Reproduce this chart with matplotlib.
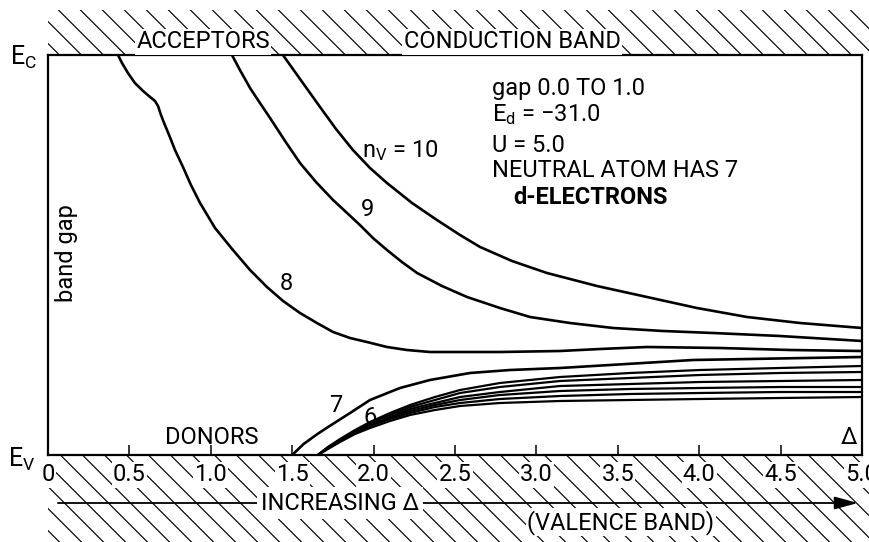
import numpy as np
import matplotlib
matplotlib.use("Agg")
import matplotlib.pyplot as plt
from matplotlib.patches import Rectangle

plt.rcParams['font.family'] = ['Roboto', 'DejaVu Sans']
plt.rcParams['font.weight'] = 'normal'
plt.rcParams['mathtext.fontset'] = 'custom'
plt.rcParams['mathtext.rm'] = 'Roboto'
plt.rcParams['mathtext.it'] = 'Roboto'

# ---------------- data (Delta, level between Ev=0 and Ec=1) ----------------
tick_values = [0, 0.5, 1.0, 1.5, 2.0, 2.5, 3.0, 3.5, 4.0, 4.5, 5.0]
tick_labels = ["0", "0.5", "1.0", "1.5", "2.0", "2.5", "3.0", "3.5", "4.0", "4.5", "5.0"]

delta_n10 = [1.443, 1.548, 1.671, 1.769, 1.873, 1.978, 2.082, 2.236, 2.389, 2.531,
             2.654, 2.850, 3.065, 3.372, 3.679, 3.986, 4.294, 4.619, 5.0]
level_n10 = [1.0, 0.94, 0.87, 0.815, 0.7625, 0.7175, 0.68, 0.63, 0.5875, 0.55,
             0.52, 0.485, 0.455, 0.4225, 0.395, 0.3675, 0.345, 0.33, 0.3175]

delta_n9 = [1.130, 1.179, 1.241, 1.302, 1.364, 1.456, 1.548, 1.646, 1.751, 1.837,
            1.916, 1.996, 2.082, 2.174, 2.267, 2.420, 2.574, 2.776, 2.961, 3.206,
            3.471, 3.778, 4.085, 4.496, 5.0]
level_n9 = [1.0, 0.9625, 0.9175, 0.88, 0.8425, 0.785, 0.73, 0.6825, 0.6375, 0.605,
            0.575, 0.5425, 0.5125, 0.4825, 0.455, 0.4225, 0.395, 0.3675, 0.345, 0.33,
            0.3175, 0.31, 0.305, 0.2975, 0.285]

delta_n8 = [0.430, 0.4545, 0.491, 0.534, 0.584, 0.627, 0.657, 0.676, 0.694, 0.713,
            0.731, 0.756, 0.780, 0.829, 0.878, 0.934, 1.026, 1.136, 1.241, 1.345,
            1.444, 1.548, 1.652, 1.751, 1.855, 1.959, 2.082, 2.205, 2.346, 2.469,
            2.776, 3.145, 3.391, 3.679, 4.128, 4.558, 5.0]
level_n8 = [1.0, 0.98, 0.955, 0.93, 0.91, 0.895, 0.885, 0.8725, 0.85, 0.83,
            0.8125, 0.7875, 0.7625, 0.72, 0.675, 0.63, 0.5675, 0.5125, 0.4625, 0.42,
            0.385, 0.355, 0.33, 0.3075, 0.2925, 0.2825, 0.27, 0.2625, 0.2575, 0.2575,
            0.2575, 0.26, 0.265, 0.27, 0.2675, 0.2625, 0.26]

delta_n7 = [1.5, 1.57, 1.655, 1.73, 1.865, 1.978, 2.162, 2.346, 2.592, 2.838,
            3.145, 3.962, 5.0]
level_n7 = [0.0, 0.0275, 0.0525, 0.0725, 0.1075, 0.1375, 0.1675, 0.1875, 0.205, 0.2125,
            0.2175, 0.2375, 0.245]

delta_low = [1.658, 1.720, 1.794, 1.886, 1.978, 2.101, 2.224, 2.377, 2.531, 2.776,
             3.145, 3.575, 4.005, 4.496, 5.0]
level_n6 = [0, 0.02, 0.04, 0.0625, 0.0825, 0.105, 0.125, 0.145, 0.1625, 0.18,
            0.195, 0.205, 0.2125, 0.2175, 0.2225]
level_n5 = [0, 0.02, 0.0375, 0.06, 0.08, 0.1, 0.12, 0.1375, 0.155, 0.17,
            0.185, 0.1925, 0.2, 0.205, 0.2075]
level_n4 = [0, 0.0175, 0.0375, 0.0575, 0.0775, 0.095, 0.115, 0.13, 0.145, 0.1575,
            0.1725, 0.1775, 0.1825, 0.185, 0.1875]
level_n3 = [0, 0.0175, 0.035, 0.055, 0.075, 0.0925, 0.11, 0.125, 0.1375, 0.15,
            0.16, 0.165, 0.1675, 0.17, 0.17]
level_n2 = [0, 0.0175, 0.035, 0.055, 0.0725, 0.09, 0.105, 0.12, 0.13, 0.14,
            0.1475, 0.1525, 0.155, 0.1575, 0.1575]
level_n1 = [0, 0.015, 0.0325, 0.0525, 0.0675, 0.085, 0.1, 0.1125, 0.1225, 0.13,
            0.135, 0.1375, 0.14, 0.1425, 0.145]

# ---------------- figure ----------------
W, H = 870, 542
fig = plt.figure(figsize=(W / 100, H / 100), dpi=100)
ax = fig.add_axes([48 / W, 87 / H, 814 / W, 400 / H])
ax.set_xlim(0, 5)
ax.set_ylim(0, 1)
for s in ax.spines.values():
    s.set_linewidth(1.6)
FS = 17
ax.set_yticks([])
ax.set_xticks(tick_values)
ax.set_xticklabels(tick_labels)
ax.tick_params(axis='x', direction='in', length=7, width=1.1, pad=6, labelsize=FS)
for lbl in ax.get_xticklabels():
    lbl.set_bbox(dict(facecolor='white', edgecolor='none', pad=0.8))
    lbl.set_zorder(6)

LW = 1.9
for dx, ly in [(delta_n10, level_n10), (delta_n9, level_n9), (delta_n8, level_n8),
               (delta_n7, level_n7)]:
    ax.plot(dx, ly, color='black', lw=LW, solid_capstyle='round', solid_joinstyle='round')
for ly in [level_n6, level_n5, level_n4, level_n3, level_n2, level_n1]:
    ax.plot(delta_low, ly, color='black', lw=1.6, solid_joinstyle='round')

# ---------------- hatched bands ----------------
xpix = 162.8  # pixels per unit Delta
ypix = 400.0  # pixels per unit level
slope = xpix / ypix
x_right = (870 - 48) / xpix
top_lo, top_hi = 1.0, (455 - 10) / ypix
bot_lo, bot_hi = -(542 - 455) / ypix, 0.0
spacing = 22 / xpix
for (ylo, yhi) in [(top_lo, top_hi), (bot_lo, bot_hi)]:
    rect = Rectangle((0, ylo), x_right, yhi - ylo, transform=ax.transData)
    span = (yhi - ylo) / slope
    for c in np.arange(-span - 0.2, x_right + 0.2, spacing):
        ln, = ax.plot([c, c + span], [yhi, ylo], color='black', lw=0.85, zorder=1)
        ln.set_clip_path(rect)

mask = dict(facecolor='white', edgecolor='none', pad=1.2)
# ---------------- outside labels ----------------
ax.text(0.952, 1.033, "ACCEPTORS", fontsize=FS, ha='center', va='center', bbox=mask,
        zorder=6, clip_on=False)
ax.text(2.850, 1.033, "CONDUCTION BAND", fontsize=FS, ha='center', va='center', bbox=mask,
        zorder=6, clip_on=False)
ax.text(-0.15, 0.993, r"$\mathregular{E_C}$", fontsize=18, ha='center', va='center',
        clip_on=False)
ax.text(-0.16, -0.012, r"$\mathregular{E_V}$", fontsize=18, ha='center', va='center',
        clip_on=False)

ax.annotate('', xy=(4.975, -0.12), xytext=(0.061, -0.12),
            arrowprops=dict(arrowstyle='-|>,head_length=1.1,head_width=0.3',
                            mutation_scale=13, lw=1.3, color='black',
                            shrinkA=0, shrinkB=0),
            annotation_clip=False, zorder=5)
ax.text(1.794, -0.12, "INCREASING Δ", fontsize=FS, ha='center', va='center',
        bbox=dict(facecolor='white', edgecolor='none', pad=3), zorder=7, clip_on=False)
ax.text(3.52, -0.168, "(VALENCE BAND)", fontsize=FS, ha='center', va='center',
        bbox=mask, zorder=7, clip_on=False)

# ---------------- inside labels ----------------
ax.text(2.727, 0.9175, "gap 0.0 TO 1.0", fontsize=FS, ha='left', va='center')
ax.text(2.727, 0.85, r"$\mathregular{E_d}$ = −31.0", fontsize=FS, ha='left', va='center')
ax.text(2.727, 0.775, "U = 5.0", fontsize=FS, ha='left', va='center')
ax.text(2.727, 0.7125, "NEUTRAL ATOM HAS 7", fontsize=FS, ha='left', va='center')
ax.text(2.856, 0.645, "d-ELECTRONS", fontsize=FS, ha='left', va='center', fontweight='bold')
ax.text(1.929, 0.762, r"$\mathregular{n_V}$ = 10", fontsize=FS, ha='left', va='center')
ax.text(1.960, 0.6125, "9", fontsize=FS, ha='center', va='center')
ax.text(1.462, 0.4275, "8", fontsize=FS, ha='center', va='center')
ax.text(1.769, 0.125, "7", fontsize=FS, ha='center', va='center')
ax.text(1.978, 0.0925, "6", fontsize=FS, ha='center', va='center')
ax.text(1.007, 0.0425, "DONORS", fontsize=FS, ha='center', va='center')
ax.text(4.920, 0.045, "Δ", fontsize=FS, ha='center', va='center')
ax.text(0.111, 0.505, "band gap", fontsize=FS, ha='center', va='center', rotation=90)

fig.savefig("out.png", dpi=100)
